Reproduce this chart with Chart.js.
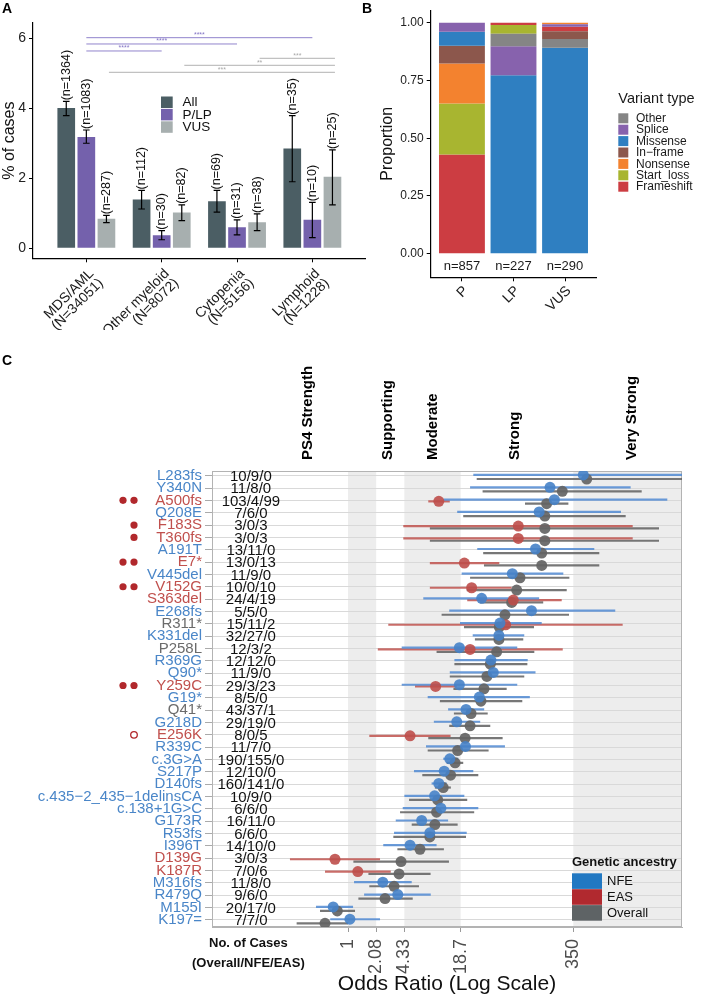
<!DOCTYPE html>
<html>
<head>
<meta charset="utf-8">
<title>Variant burden and odds ratios</title>
<script src="https://cdn.jsdelivr.net/npm/chart.js@4.4.1/dist/chart.umd.min.js"></script>
<style>
  html, body { margin: 0; padding: 0; background: #fff; }
  body { position: relative; width: 701px; height: 999px; overflow: hidden; }
  canvas, .tag { position: absolute; }
  .tag { font: bold 14px 'Liberation Sans', Arial, sans-serif; }
</style>
</head>
<body>
<canvas id="chartA" width="370" height="330" style="left:0;top:0"></canvas>
<canvas id="chartB" width="351" height="330" style="left:350px;top:0"></canvas>
<canvas id="chartC" width="701" height="669" style="left:0;top:330px"></canvas>
<div class="tag" style="left:2px;top:0px">A</div>
<div class="tag" style="left:362px;top:0px">B</div>
<div class="tag" style="left:2px;top:352px">C</div>
<script>
const FONT = "'Liberation Sans', Arial, Helvetica, sans-serif";
Chart.defaults.font.family = FONT;
Chart.defaults.color = '#1a1a1a';
Chart.defaults.animation = false;
Chart.defaults.plugins.legend.display = false;
Chart.defaults.plugins.tooltip.enabled = false;

// 45 degree category labels, right end of each line just past the tick (ggplot angle=45, hjust=1)
function drawSlantLabels(chart, lines, size, dx, dy) {
  const { ctx, scales: { x }, chartArea: a } = chart;
  ctx.save();
  ctx.fillStyle = '#1a1a1a';
  ctx.font = size + 'px ' + FONT;
  ctx.textAlign = 'right';
  ctx.textBaseline = 'alphabetic';
  lines.forEach((lab, i) => {
    ctx.save();
    ctx.translate(x.getPixelForValue(i + 1) + dx, a.bottom + dy);
    ctx.rotate(-Math.PI / 4);
    [].concat(lab).forEach((t, k) => ctx.fillText(t, 0, k * size * 0.96));
    ctx.restore();
  });
  ctx.restore();
}

// ---------- Panel A: % of cases with a variant, per diagnosis ----------
const groupNames = ['MDS/AML', 'Other myeloid', 'Cytopenia', 'Lymphoid'];
const groupTotals = ['(N=34051)', '(N=8072)', '(N=5156)', '(N=1228)'];
const pctAll = [4.01, 1.39, 1.34, 2.85];
const pctPLP = [3.18, 0.37, 0.60, 0.81];
const pctVUS = [0.84, 1.02, 0.74, 2.04];
const loAll = [3.79, 1.12, 1.03, 1.90];
const hiAll = [4.20, 1.65, 1.65, 3.79];
const loPLP = [3.00, 0.24, 0.38, 0.30];
const hiPLP = [3.38, 0.50, 0.81, 1.31];
const loVUS = [0.73, 0.79, 0.50, 1.24];
const hiVUS = [0.94, 1.24, 0.98, 2.81];
const nAll = [1364, 112, 69, 35];
const nPLP = [1083, 30, 31, 10];
const nVUS = [287, 82, 38, 25];
// significance brackets (x in group units, y in % of cases)
const sigFrom = [1.0, 1.0, 1.0, 3.3, 2.3, 1.3];
const sigTo = [4.0, 3.0, 2.0, 4.3, 4.3, 4.3];
const sigY = [6.02, 5.84, 5.64, 5.43, 5.23, 5.03];
const sigText = ['****', '****', '****', '***', '**', '***'];
const sigKind = ['plp', 'plp', 'plp', 'vus', 'vus', 'vus'];

const colA = { all: '#4b5e64', plp: '#7461ac', vus: '#a7afaf' };

function barData(vals) {
  return vals.map((v, i) => ({ x: i + 1, y: v }));
}

const panelAPlugin = {
  id: 'panelA',
  afterDatasetsDraw(chart) {
    const { ctx, scales: { x, y } } = chart;
    ctx.save();
    chart.data.datasets.forEach((ds, di) => {
      chart.getDatasetMeta(di).data.forEach((bar, i) => {
        const top = y.getPixelForValue(ds.errHi[i]);
        const bot = y.getPixelForValue(ds.errLo[i]);
        ctx.strokeStyle = '#000';
        ctx.lineWidth = 1.2;
        ctx.beginPath();
        ctx.moveTo(bar.x, top); ctx.lineTo(bar.x, bot);
        ctx.moveTo(bar.x - 3.3, top); ctx.lineTo(bar.x + 3.3, top);
        ctx.moveTo(bar.x - 3.3, bot); ctx.lineTo(bar.x + 3.3, bot);
        ctx.stroke();
        ctx.save();
        ctx.translate(bar.x, top - 1);
        ctx.rotate(-Math.PI / 2);
        ctx.fillStyle = '#111';
        ctx.font = '12.5px ' + FONT;
        ctx.textAlign = 'left';
        ctx.textBaseline = 'middle';
        ctx.fillText('(n=' + ds.nCases[i] + ')', 0, 0);
        ctx.restore();
      });
    });
    // significance lines
    sigFrom.forEach((f, k) => {
      const col = sigKind[k] === 'plp' ? '#8576c6' : '#a9a9a9';
      const x1 = x.getPixelForValue(f), x2 = x.getPixelForValue(sigTo[k]);
      const py = y.getPixelForValue(sigY[k]);
      ctx.strokeStyle = col;
      ctx.lineWidth = 0.9;
      ctx.beginPath(); ctx.moveTo(x1, py); ctx.lineTo(x2, py); ctx.stroke();
      ctx.fillStyle = col;
      ctx.font = '7px ' + FONT;
      ctx.textAlign = 'center';
      ctx.textBaseline = 'bottom';
      ctx.fillText(sigText[k], (x1 + x2) / 2, py + 1);
    });
    // legend
    const items = [['All', colA.all], ['P/LP', colA.plp], ['VUS', colA.vus]];
    items.forEach((it, k) => {
      const top = 96.5 + k * 12.4;
      ctx.fillStyle = it[1];
      ctx.fillRect(161, top, 11.7, 11.5);
      ctx.fillStyle = '#111';
      ctx.font = '13.5px ' + FONT;
      ctx.textAlign = 'left';
      ctx.textBaseline = 'middle';
      ctx.fillText(it[0], 182.5, top + 6.2);
    });
    ctx.restore();
  },
  afterDraw(chart) {
    drawSlantLabels(chart, groupNames.map((g, i) => [g, groupTotals[i]]), 14, 8, 16);
  }
};

new Chart(document.getElementById('chartA'), {
  type: 'bar',
  data: {
    datasets: [
      { label: 'All', data: barData(pctAll), backgroundColor: colA.all, errLo: loAll, errHi: hiAll, nCases: nAll },
      { label: 'P/LP', data: barData(pctPLP), backgroundColor: colA.plp, errLo: loPLP, errHi: hiPLP, nCases: nPLP },
      { label: 'VUS', data: barData(pctVUS), backgroundColor: colA.vus, errLo: loVUS, errHi: hiVUS, nCases: nVUS }
    ]
  },
  options: {
    responsive: false,
    categoryPercentage: 0.8,
    barPercentage: 0.88,
    layout: { padding: { left: 0, top: 23, right: 4.3, bottom: 0 } },
    scales: {
      x: {
        type: 'linear', min: 0.292, max: 4.708, offset: false,
        afterBuildTicks: s => { s.ticks = groupNames.map((_, i) => ({ value: i + 1 })); },
        afterFit: s => { s.height = 71.7; },
        ticks: { display: false },
        grid: { offset: false, drawOnChartArea: false, tickLength: 4, color: '#000', tickColor: '#000' },
        border: { color: '#000', width: 1.2 }
      },
      y: {
        min: -0.29, max: 6.44,
        afterBuildTicks: s => { s.ticks = [0, 2, 4, 6].map(v => ({ value: v })); },
        afterFit: s => { s.width = 33; },
        ticks: { color: '#222', font: { size: 14 }, padding: 3 },
        grid: { drawOnChartArea: false, tickLength: 4, color: '#000', tickColor: '#000' },
        border: { color: '#000', width: 1.2 },
        title: { display: true, text: '% of cases', font: { size: 16 }, color: '#111', padding: 0 }
      }
    }
  },
  plugins: [panelAPlugin]
});

// ---------- Panel B: variant type composition ----------
const bCats = ['P', 'LP', 'VUS'];
const bN = [857, 227, 290];
const typeNames = ['Other', 'Splice', 'Missense', 'In\u2212frame', 'Nonsense', 'Start_loss', 'Frameshift'];
const typeColors = ['#858585', '#8762ad', '#2f7fc1', '#8c574c', '#f3822f', '#a8b530', '#cc3d42'];
const propOther = [0.000, 0.054, 0.038];
const propSplice = [0.039, 0.125, 0.011];
const propMissense = [0.061, 0.773, 0.891];
const propInframe = [0.077, 0.000, 0.034];
const propNonsense = [0.173, 0.000, 0.007];
const propStartLoss = [0.220, 0.038, 0.000];
const propFrameshift = [0.430, 0.010, 0.019];
const typeProps = [propOther, propSplice, propMissense, propInframe, propNonsense, propStartLoss, propFrameshift];

// within each bar the largest share sits at the bottom
const segments = typeNames.map(() => []);
bCats.forEach((c, j) => {
  const order = typeNames.map((_, k) => k)
    .filter(k => typeProps[k][j] > 0)
    .sort((a, b) => typeProps[b][j] - typeProps[a][j]);
  let base = 0;
  order.forEach(k => {
    const top = base + typeProps[k][j];
    segments[k].push({ x: j + 1, y: [base, top] });
    base = top;
  });
});

const panelBPlugin = {
  id: 'panelB',
  afterDraw(chart) {
    const { ctx, scales: { x, y } } = chart;
    drawSlantLabels(chart, bCats, 14, 6.6, 14);
    ctx.save();
    ctx.fillStyle = '#1a1a1a';
    ctx.font = '13px ' + FONT;
    ctx.textAlign = 'center';
    ctx.textBaseline = 'middle';
    bN.forEach((n, j) => ctx.fillText('n=' + n, x.getPixelForValue(j + 1), y.getPixelForValue(-0.056)));
    // legend
    ctx.textAlign = 'left';
    ctx.font = '14.5px ' + FONT;
    ctx.fillText('Variant type', 268.3, 99);
    ctx.font = '12px ' + FONT;
    typeNames.forEach((t, k) => {
      const top = 113.3 + k * 11.4;
      ctx.fillStyle = typeColors[k];
      ctx.fillRect(268.3, top, 10, 10);
      ctx.fillStyle = '#1a1a1a';
      ctx.fillText(t, 286, top + 5.3);
    });
    ctx.restore();
  }
};

new Chart(document.getElementById('chartB'), {
  type: 'bar',
  data: {
    datasets: typeNames.map((t, k) => ({
      label: t, data: segments[k], backgroundColor: typeColors[k], borderWidth: 0, grouped: false
    }))
  },
  options: {
    responsive: false,
    categoryPercentage: 1,
    barPercentage: 0.89,
    layout: { padding: { left: 28, top: 5, right: 104.3, bottom: 0 } },
    scales: {
      x: {
        type: 'linear', min: 0.394, max: 3.614, offset: false,
        afterBuildTicks: s => { s.ticks = bCats.map((_, i) => ({ value: i + 1 })); },
        afterFit: s => { s.height = 52.7; },
        ticks: { display: false },
        grid: { offset: false, drawOnChartArea: false, tickLength: 4, color: '#000', tickColor: '#000' },
        border: { color: '#000', width: 1.2 }
      },
      y: {
        min: -0.102, max: 1.054,
        afterBuildTicks: s => { s.ticks = [0, 0.25, 0.5, 0.75, 1].map(v => ({ value: v })); },
        afterFit: s => { s.width = 52.7; },
        ticks: { color: '#222', font: { size: 12 }, padding: 3, callback: v => v.toFixed(2) },
        grid: { drawOnChartArea: false, tickLength: 4, color: '#000', tickColor: '#000' },
        border: { color: '#000', width: 1.2 },
        title: { display: true, text: 'Proportion', font: { size: 16 }, color: '#111', padding: 0 }
      }
    }
  },
  plugins: [panelBPlugin]
});

// ---------- Panel C: odds ratio forest plot ----------
const variants = ['L283fs', 'Y340N', 'A500fs', 'Q208E', 'F183S', 'T360fs', 'A191T', 'E7*', 'V445del', 'V152G',
  'S363del', 'E268fs', 'R311*', 'K331del', 'P258L', 'R369G', 'Q90*', 'Y259C', 'G19*', 'Q41*', 'G218D', 'E256K',
  'R339C', 'c.3G>A', 'S217P', 'D140fs', 'c.435\u22122_435\u22121delinsCA', 'c.138+1G>C', 'G173R', 'R53fs', 'I396T',
  'D139G', 'K187R', 'M316fs', 'R479Q', 'M155I', 'K197='];
const labelGroup = ['NFE', 'NFE', 'EAS', 'NFE', 'EAS', 'EAS', 'NFE', 'EAS', 'NFE', 'EAS', 'EAS', 'NFE', 'All', 'NFE',
  'All', 'NFE', 'NFE', 'EAS', 'NFE', 'All', 'NFE', 'EAS', 'NFE', 'NFE', 'NFE', 'NFE', 'NFE', 'NFE', 'NFE', 'NFE',
  'NFE', 'EAS', 'EAS', 'NFE', 'NFE', 'NFE', 'NFE'];
const caseCounts = ['10/9/0', '11/8/0', '103/4/99', '7/6/0', '3/0/3', '3/0/3', '13/11/0', '13/0/13', '11/9/0',
  '10/0/10', '24/4/19', '5/5/0', '15/11/2', '32/27/0', '12/3/2', '12/12/0', '11/9/0', '29/3/23', '8/5/0', '43/37/1',
  '29/19/0', '8/0/5', '11/7/0', '190/155/0', '12/10/0', '160/141/0', '10/9/0', '6/6/0', '16/11/0', '6/6/0',
  '14/10/0', '3/0/3', '7/0/6', '11/8/0', '9/6/0', '20/17/0', '7/7/0'];
// EAS evidence markers: number of filled dots, -1 for an open dot
const easMarks = [0, 0, 2, 0, 1, 1, 0, 2, 0, 2, 0, 0, 0, 0, 0, 0, 0, 2, 0, 0, 0, -1, 0, 0, 0, 0, 0, 0, 0, 0, 0,
  0, 0, 0, 0, 0, 0];

const nfeOR = [454, 191, 214, 144, null, null, 131, null, 71.7, null, 32.3, 118, 52, 50.6, 18.1, 41.1, 43.7, 18.1,
  30.4, 21.5, 16.9, null, 21.2, 14.1, 12.2, 10.6, 9.5, 11.2, 6.79, 8.4, 5.02, null, null, 2.47, 3.65, 0.68, 1.05];
const nfeLo = [26, 23.9, 11.9, 17.1, null, null, 28.8, null, 19.2, null, 7.08, 13.9, 18.4, 25.6, 4.04, 15.9, 14.1,
  4.04, 7.94, 13.5, 9.32, null, 7.6, 11.9, 5.56, 8.79, 4.33, 4.15, 3.46, 3.31, 2.5, null, null, 1.17, 1.52, 0.435, 0.63];
const nfeHi = [1e5, 1555, 4032, 1209, null, null, 604, null, 270, null, 144, 1042, 154, 97.8, 81.5, 107, 131, 81.5,
  113, 34.5, 31.1, null, 59.2, 17.6, 26, 13.0, 20.6, 29.6, 13.5, 21.9, 10.0, null, null, 5.24, 8.6, 1.14, 2.3];

const easOR = [null, null, 10.6, null, 83.7, 83.7, null, 20.6, null, 24.9, 73.5, null, 60.3, null, 23.9, null, null,
  9.75, null, null, null, 5.02, null, null, null, null, null, null, null, null, null, 0.713, 1.29, null, null, null, null];
const easLo = [null, null, 8.06, null, 4.21, 4.21, null, 8.4, null, 8.4, 22.2, null, 2.85, null, 2.17, null, null,
  5.71, null, null, null, 1.74, null, null, null, null, null, null, null, null, null, 0.221, 0.55, null, null, null, null];
const easHi = [null, null, 14.1, null, 1640, 1640, null, 51.1, null, 70.5, 259, null, 1263, null, 266, null, null,
  16.9, null, null, null, 14.4, null, null, null, null, null, null, null, null, null, 2.3, 3.04, null, null, null, null];

const allOR = [496, 263, 175, 167, 167, 167, 154, 154, 87.5, 80.3, 70.5, 59.2, 51.1, 50.6, 47.7, 40.4, 37.0, 34.3,
  31.7, 24.5, 23.9, 21.0, 17.3, 16.2, 14.4, 11.9, 10.3, 10.0, 9.57, 8.4, 6.5, 3.97, 3.77, 3.31, 2.62, 0.757, 0.55];
const allLo = [28.4, 33.1, 99.7, 20.0, 8.4, 8.4, 33.6, 34.3, 23.9, 21.9, 30.9, 11.4, 20.4, 27.1, 10.0, 15.9, 14.1,
  15.5, 10.9, 15.7, 13.9, 8.06, 7.94, 13.0, 6.9, 9.57, 4.89, 3.87, 5.24, 3.25, 3.61, 1.15, 1.70, 1.74, 1.31, 0.483, 0.263];
const allHi = [1e5, 2072, 308, 1366, 3249, 3249, 688, 688, 316, 295, 160, 313, 126, 95.3, 127, 106, 97.8, 61.9,
  92.9, 37.8, 40.4, 55.7, 38.7, 20.0, 29.6, 14.5, 22.2, 26.6, 17.3, 21.5, 12.1, 13.8, 8.56, 6.33, 5.38, 1.2, 1.0];

const psBreaks = [1, 2.08, 4.33, 18.7, 350];
const psNames = ['PS4 Strength', 'Supporting', 'Moderate', 'Strong', 'Very Strong'];
const psLabelAt = [0.35, 2.85, 9.1, 77, 1610];
const countsAt = 0.08;

const anc = {
  NFE: { point: 'rgba(70,130,200,0.9)', line: 'rgba(80,138,210,0.85)', key: '#2178c2', text: '#4a86c8', off: -0.06 },
  EAS: { point: 'rgba(190,78,74,0.9)', line: 'rgba(192,82,78,0.85)', key: '#b1292f', text: '#c0504d', off: 0.08 },
  All: { point: 'rgba(100,100,100,0.92)', line: 'rgba(95,95,95,0.85)', key: '#5e6365', text: '#6b6b6b', off: 0.27 }
};
const ciSets = [
  { a: anc.All, lo: allLo, hi: allHi },
  { a: anc.EAS, lo: easLo, hi: easHi },
  { a: anc.NFE, lo: nfeLo, hi: nfeHi }
];

function points(or, off) {
  const out = [];
  or.forEach((v, i) => { if (v != null) out.push({ x: v, y: i + off }); });
  return out;
}

const panelCPlugin = {
  id: 'panelC',
  beforeDraw(chart) {
    const { ctx, chartArea: a, scales: { x } } = chart;
    ctx.save();
    ctx.fillStyle = '#ededed';
    [[psBreaks[0], psBreaks[1]], [psBreaks[2], psBreaks[3]], [psBreaks[4], x.max]].forEach(b => {
      const x1 = x.getPixelForValue(b[0]), x2 = x.getPixelForValue(b[1]);
      ctx.fillRect(x1, a.top, x2 - x1, a.height);
    });
    ctx.restore();
  },
  beforeDatasetsDraw(chart) {
    const { ctx, chartArea: a, scales: { x, y } } = chart;
    ctx.save();
    // frame
    ctx.strokeStyle = '#b3b3b3';
    ctx.lineWidth = 1;
    ctx.strokeRect(a.left + 0.5, a.top + 0.5, a.width - 1, a.height - 1);
    // case counts
    ctx.fillStyle = '#111';
    ctx.font = '15px ' + FONT;
    ctx.textAlign = 'center';
    ctx.textBaseline = 'middle';
    caseCounts.forEach((c, i) => ctx.fillText(c, x.getPixelForValue(countsAt), y.getPixelForValue(i) + 1));
    // confidence intervals
    ctx.beginPath();
    ctx.rect(a.left, a.top, a.width, a.height);
    ctx.clip();
    ctx.lineWidth = 2.2;
    ciSets.forEach(s => {
      ctx.strokeStyle = s.a.line;
      s.lo.forEach((lo, i) => {
        if (lo == null) return;
        const py = y.getPixelForValue(i + s.a.off);
        ctx.beginPath();
        ctx.moveTo(x.getPixelForValue(lo), py);
        ctx.lineTo(x.getPixelForValue(Math.min(s.hi[i], x.max * 2)), py);
        ctx.stroke();
      });
    });
    ctx.restore();
  },
  afterDraw(chart) {
    const { ctx, chartArea: a, scales: { x, y } } = chart;
    ctx.save();
    // strength headers
    ctx.fillStyle = '#000';
    ctx.font = 'bold 15px ' + FONT;
    ctx.textAlign = 'left';
    ctx.textBaseline = 'middle';
    psNames.forEach((n, k) => {
      ctx.save();
      ctx.translate(x.getPixelForValue(psLabelAt[k]), a.top - 11);
      ctx.rotate(-Math.PI / 2);
      ctx.fillText(n, 0, 0);
      ctx.restore();
    });
    // evidence markers next to the variant names
    ctx.fillStyle = '#b1282c';
    ctx.strokeStyle = '#b1282c';
    ctx.lineWidth = 1.3;
    easMarks.forEach((m, i) => {
      const py = y.getPixelForValue(i);
      if (m === -1) {
        ctx.beginPath(); ctx.arc(a.left - 78, py, 3.3, 0, Math.PI * 2); ctx.stroke();
      }
      for (let d = 0; d < m; d++) {
        ctx.beginPath(); ctx.arc(a.left - 78 - d * 11, py, 3.6, 0, Math.PI * 2); ctx.fill();
      }
    });
    // column caption
    ctx.fillStyle = '#111';
    ctx.font = 'bold 13px ' + FONT;
    ctx.textAlign = 'center';
    const cx = x.getPixelForValue(0.075);
    ctx.fillText('No. of Cases', cx, a.bottom + 16);
    ctx.fillText('(Overall/NFE/EAS)', cx, a.bottom + 36);
    // legend
    ctx.textAlign = 'left';
    ctx.fillText('Genetic ancestry', 572, 532);
    ctx.font = '13px ' + FONT;
    [['NFE', anc.NFE.key], ['EAS', anc.EAS.key], ['Overall', anc.All.key]].forEach((it, k) => {
      const top = 543.3 + k * 15.9;
      ctx.fillStyle = it[1];
      ctx.fillRect(572, top, 30, 15.6);
      ctx.fillStyle = '#111';
      ctx.fillText(it[0], 607, top + 8.5);
    });
    ctx.restore();
  }
};

new Chart(document.getElementById('chartC'), {
  type: 'scatter',
  data: {
    datasets: [
      { label: 'NFE', data: points(nfeOR, anc.NFE.off), backgroundColor: anc.NFE.point },
      { label: 'EAS', data: points(easOR, anc.EAS.off), backgroundColor: anc.EAS.point },
      { label: 'Overall', data: points(allOR, anc.All.off), backgroundColor: anc.All.point }
    ]
  },
  options: {
    responsive: false,
    elements: { point: { radius: 5.5, borderWidth: 0 } },
    layout: { padding: { left: 0, top: 141, right: 19, bottom: 0 } },
    scales: {
      x: {
        type: 'logarithmic', min: 0.02912, max: 5909,
        afterBuildTicks: s => { s.ticks = psBreaks.map(v => ({ value: v })); },
        afterFit: s => { s.height = 72; },
        ticks: { autoSkip: false, minRotation: 90, maxRotation: 90, color: '#4d4d4d', font: { size: 18 }, padding: 7,
                 callback: v => String(v) },
        grid: { drawOnChartArea: false, tickLength: 5, color: '#9a9a9a', tickColor: '#9a9a9a' },
        border: { color: '#b3b3b3' },
        title: { display: true, text: 'Odds Ratio (Log Scale)', font: { size: 21 }, color: '#111', padding: { top: 0, bottom: 2 } }
      },
      y: {
        type: 'linear', reverse: true, min: -0.38, max: 36.57,
        afterBuildTicks: s => { s.ticks = variants.map((_, i) => ({ value: i })); },
        afterFit: s => { s.width = 212; },
        ticks: { autoSkip: false, font: { size: 15 }, padding: 3,
                 color: c => anc[labelGroup[c.tick.value]].text,
                 callback: v => variants[v] },
        grid: { color: '#d9d9d9', tickLength: 7, tickColor: '#aaaaaa' },
        border: { color: '#b3b3b3' }
      }
    }
  },
  plugins: [panelCPlugin]
});
</script>
</body>
</html>
